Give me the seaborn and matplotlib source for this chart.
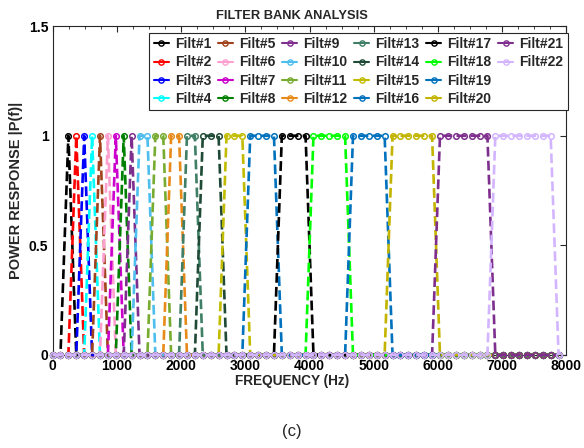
import numpy as np
import matplotlib
matplotlib.use("Agg")
import matplotlib.pyplot as plt
from matplotlib.lines import Line2D
from matplotlib.ticker import MultipleLocator
import seaborn as sns

# frequency grid of the filter bank (65 bins over 0-8000 Hz)
n_bins = 65
bin_hz = 8000 / 65

# passband of every filter, as first / last bin index
filt_lo = [2, 3, 4, 5, 6, 7, 8, 9, 10, 11, 13, 15, 17, 19, 22, 25, 29, 33, 38, 43, 49, 56]
filt_hi = [2, 3, 4, 5, 6, 7, 8, 9, 10, 12, 14, 16, 18, 21, 24, 28, 32, 37, 42, 48, 55, 63]
filt_names = ["Filt#%d" % (i + 1) for i in range(22)]
filt_colors = ['#000000', '#FF0000', '#0000FF', '#00FFFF', '#A0421C', '#FF9FCF',
               '#CC00CC', '#008000', '#7E2F8E', '#4DBEEE', '#77AC30', '#E88A1A',
               '#3F7F66', '#1F4A35', '#C2BC00', '#0072BD', '#000000', '#00FF00',
               '#0072BD', '#C2B400', '#7E2F8E', '#D3B5FF']

x_ticks = [0, 1000, 2000, 3000, 4000, 5000, 6000, 7000, 8000]
y_ticks = [0, 0.5, 1, 1.5]
y_tick_labels = ['0', '0.5', '1', '1.5']

sns.set_style("white")
plt.rcParams['font.family'] = ['Liberation Sans', 'DejaVu Sans']
plt.rcParams['font.weight'] = 'bold'
plt.rcParams['axes.titleweight'] = 'bold'
plt.rcParams['axes.labelweight'] = 'bold'

bins = np.arange(n_bins)
freq = bins * bin_hz

fig = plt.figure(figsize=(5.84, 4.48), dpi=100)
ax = fig.add_axes([0.090, 0.2076, 0.880, 0.734])

for i in range(len(filt_names)):
    resp = ((bins >= filt_lo[i]) & (bins <= filt_hi[i])).astype(float)
    sns.lineplot(x=freq, y=resp, ax=ax, color=filt_colors[i], linestyle='--',
                 linewidth=1.9, marker='o', markersize=4.0, markerfacecolor='none',
                 markeredgecolor=filt_colors[i], markeredgewidth=1.1,
                 clip_on=False, legend=False, zorder=3)

ax.set_xlim(0, 8000)
ax.set_ylim(0, 1.5)
ax.set_xticks(x_ticks)
ax.set_yticks(y_ticks)
ax.set_yticklabels(y_tick_labels)
ax.xaxis.set_minor_locator(MultipleLocator(250))
ax.tick_params(which='both', direction='in', top=True, right=True, labelsize=10,
               colors='#262626', labelcolor='black')
ax.tick_params(which='major', length=4, width=0.8, pad=3)
ax.tick_params(which='minor', length=2, width=0.6)
for s in ax.spines.values():
    s.set_color('#262626')
    s.set_linewidth(0.8)

# title and x label sit at the figure centre in the reference
fig.text(0.5, 1 - 16 / 448, 'FILTER BANK ANALYSIS', ha='center', va='center',
         fontsize=9.3, fontweight='bold')
ax.set_xlabel('FREQUENCY (Hz)', fontsize=9.8, labelpad=1)
ax.xaxis.set_label_coords(0.5 - (309.7 - 292) / 514, -0.058)
ax.set_ylabel('POWER RESPONSE |P(f)|', fontsize=10.5, labelpad=4)

handles = [Line2D([], [], color=c, linestyle='-', linewidth=1.5, marker='o',
                  markersize=3.8, markerfacecolor='none', markeredgewidth=1.0)
           for c in filt_colors]
labels = list(filt_names)
# two empty slots so the last column holds only Filt#21 and Filt#22
handles += [Line2D([], [], alpha=0), Line2D([], [], alpha=0)]
labels += ['', '']
leg = ax.legend(handles, labels, ncol=6, loc='upper right', bbox_to_anchor=(1.002, 0.979),
                fontsize=10, handlelength=1.08, handletextpad=0.43, columnspacing=0.5,
                labelspacing=0.3, borderpad=0.3, borderaxespad=0, frameon=True,
                fancybox=False, edgecolor='#262626', framealpha=1)
leg.get_frame().set_linewidth(0.8)
leg.set_zorder(5)

fig.text(0.5, 0.036, '(c)', ha='center', va='center', fontsize=12, fontweight='normal')

fig.savefig('out.png', dpi=100)
